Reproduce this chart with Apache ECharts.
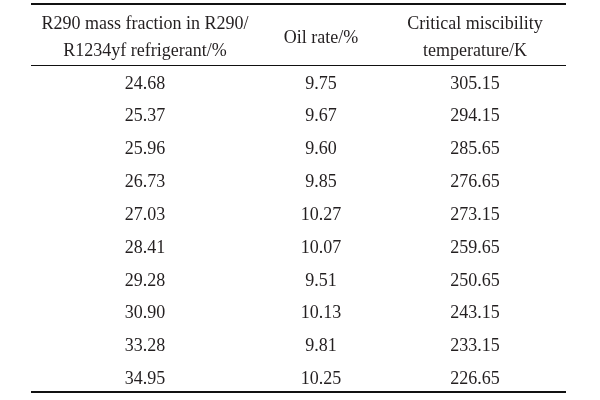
<!DOCTYPE html>
<html>
<head>
<meta charset="utf-8">
<script src="https://cdn.jsdelivr.net/npm/echarts@6/dist/echarts.min.js"></script>
<style>html,body{margin:0;padding:0;background:#fff;}#c{width:600px;height:400px;}</style>
</head>
<body>
<div id="c"></div>
<script>
// ---- data ----
const headers = ['R290 mass fraction in R290/\nR1234yf refrigerant/%', 'Oil rate/%', 'Critical miscibility\ntemperature/K'];
const r290Fraction = [24.68, 25.37, 25.96, 26.73, 27.03, 28.41, 29.28, 30.90, 33.28, 34.95];
const oilRate = [9.75, 9.67, 9.60, 9.85, 10.27, 10.07, 9.51, 10.13, 9.81, 10.25];
const criticalTemp = [305.15, 294.15, 285.65, 276.65, 273.15, 259.65, 250.65, 243.15, 233.15, 226.65];

// ---- layout (axis units) ----
const colX = [114, 290, 444];
const headerY = 35;
const firstRowY = 80.8;
const rowStep = 32.85;
const rules = [{y: 1, w: 2}, {y: 62, w: 1.2}, {y: 389, w: 2}];

const columnsData = [r290Fraction, oilRate, criticalTemp];
const cells = [];
headers.forEach((h, c) => cells.push([colX[c], headerY, h, 1]));
columnsData.forEach((col, c) => {
  col.forEach((v, r) => cells.push([colX[c], firstRowY + r * rowStep, v.toFixed(2), 0]));
});

const chart = echarts.init(document.getElementById('c'), null, {renderer: 'canvas'});
chart.setOption({
  animation: false,
  backgroundColor: '#fff',
  grid: {left: 31, right: 34, top: 3, bottom: 7},
  xAxis: {type: 'value', min: 0, max: 535, show: false},
  yAxis: {type: 'value', min: 0, max: 390, inverse: true, show: false},
  series: [
    {
      type: 'custom',
      data: cells,
      renderItem: function (params, api) {
        const p = api.coord([api.value(0), api.value(1)]);
        const d = cells[params.dataIndex];
        return {
          type: 'text',
          style: {
            text: d[2],
            x: p[0], y: p[1],
            align: 'center',
            verticalAlign: 'middle',
            fontFamily: '"Liberation Serif", "Times New Roman", serif',
            fontSize: 18,
            lineHeight: d[3] ? 27.5 : 18,
            fill: '#231f20'
          }
        };
      }
    },
    {
      type: 'line',
      data: [],
      markLine: {
        silent: true,
        symbol: 'none',
        label: {show: false},
        data: rules.map(r => ({yAxis: r.y, lineStyle: {color: '#111', width: r.w, type: 'solid'}}))
      }
    }
  ]
});
</script>
</body>
</html>
